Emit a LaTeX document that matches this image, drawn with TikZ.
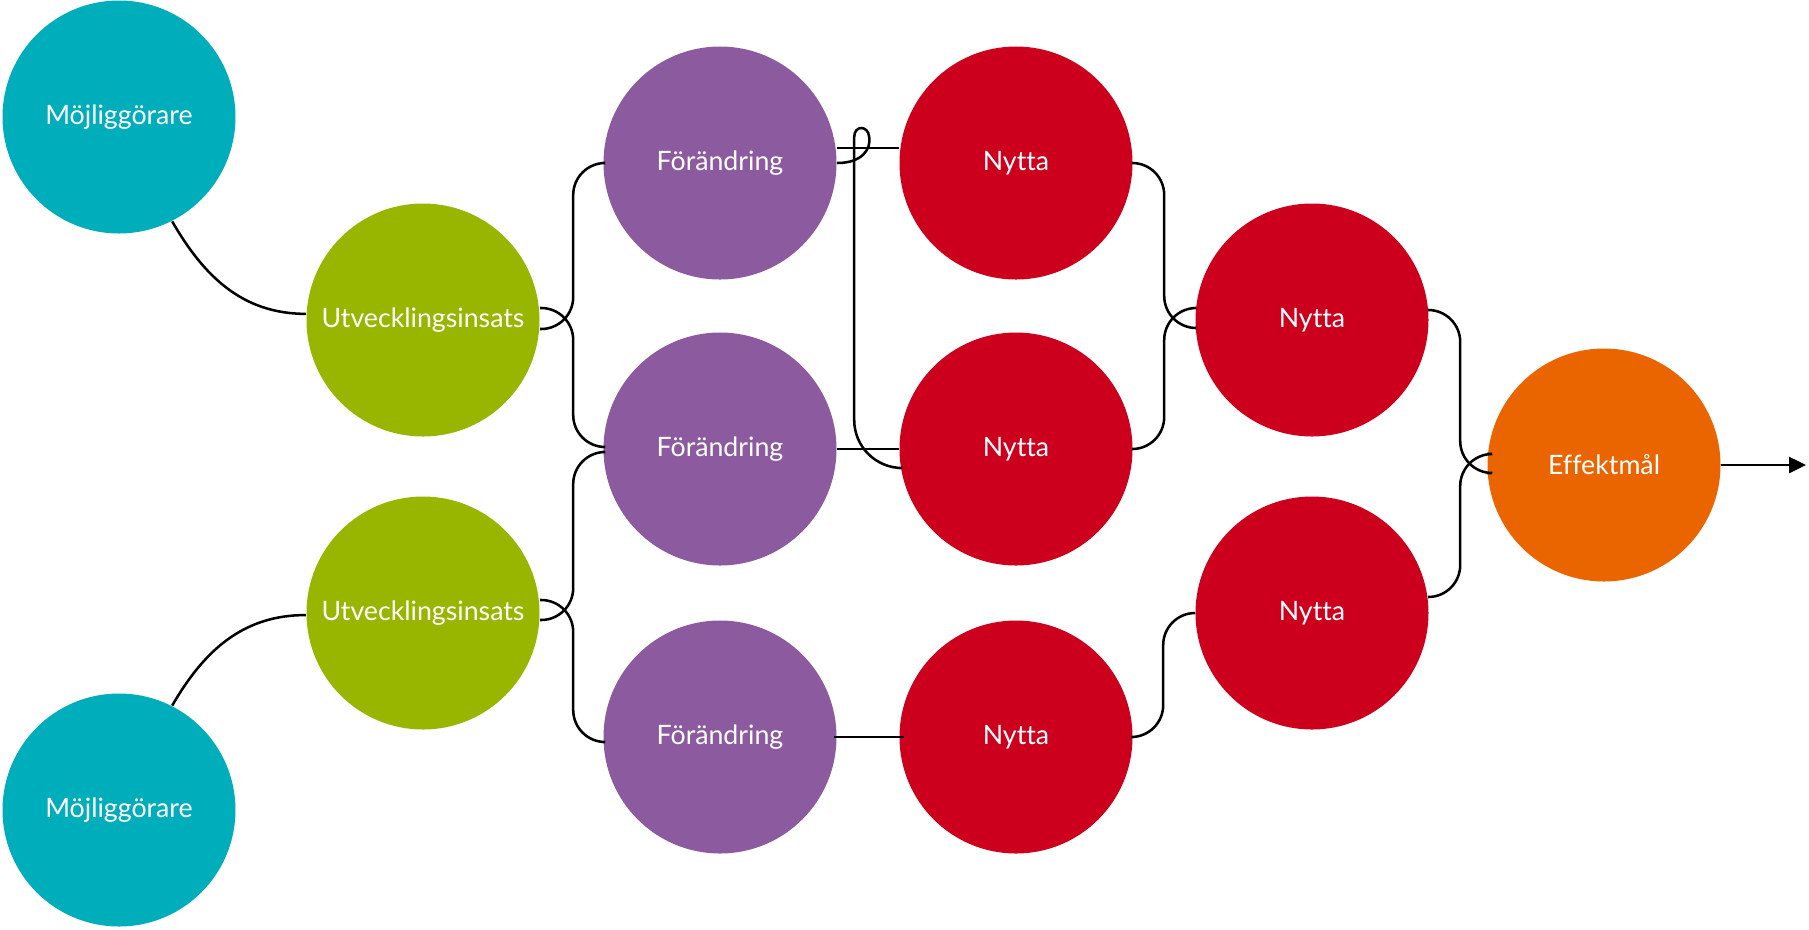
\documentclass[tikz,border=0pt]{standalone}
\usepackage{fontspec}
\setmainfont{Lato}[Ligatures=NoCommon]
\usepackage{tikz}
\usetikzlibrary{positioning}
\usetikzlibrary {arrows.meta}

\definecolor{enablerteal}{RGB}{0,173,187}
\definecolor{effortgreen}{RGB}{152,182,0}
\definecolor{changepurple}{RGB}{140,91,159}
\definecolor{benefitred}{RGB}{204,0,29}
\definecolor{goalorange}{RGB}{234,101,0}

\begin{document}
\begin{tikzpicture}[
		bubble/.style={circle,minimum size=2.33cm,inner sep=0,text=white,font=\fontsize{7.6}{9}\selectfont},
		enabler/.style={bubble,fill=enablerteal},
		effort/.style={bubble,fill=effortgreen},
		change/.style={bubble,fill=changepurple},
		benefit/.style={bubble,fill=benefitred},
		goal/.style={bubble,fill=goalorange},
		link/.style={line width=0.72pt},
		elbow/.style={link,rounded corners=0.32cm}
	]
		\useasboundingbox (0,0) rectangle (18.09,-9.29);
		
		\node[enabler] (m1) at (1.19,-1.17) {Möjliggörare};
		\node[enabler] (m2) at (1.19,-8.10) {Möjliggörare};
		
		\node[effort] (u1) at (4.23,-3.20) {Utvecklingsinsats};
		\node[effort] (u2) at (4.23,-6.13) {Utvecklingsinsats};
		
		\node[change] (f1) at (7.20,-1.63) {Förändring};
		\node[change] (f2) at (7.20,-4.49) {Förändring};
		\node[change] (f3) at (7.20,-7.37) {Förändring};
		
		\node[benefit] (n1) at (10.16,-1.63) {Nytta};
		\node[benefit] (n2) at (10.16,-4.49) {Nytta};
		\node[benefit] (n3) at (10.16,-7.37) {Nytta};
		\node[benefit] (n4) at (13.12,-3.20) {Nytta};
		\node[benefit] (n5) at (13.12,-6.13) {Nytta};
		
		\node[goal] (eff) at (16.04,-4.65) {Effektmål};
		\coordinate (out) at (18.06,-4.65);
		
		\draw[link] (m1.-63) to[out=-60,in=180] (u1.177);
		\draw[link] (m2.63) to[out=60,in=180] (u2.181);
		
		\draw[elbow] ([yshift=-0.09cm]u1.east) -- ++(0.33,0) |- (f1.west);
		\draw[elbow] ([yshift=0.12cm]u1.east) -- ++(0.33,0) |- ([yshift=0.02cm]f2.west);
		\draw[elbow] ([yshift=-0.07cm]u2.east) -- ++(0.33,0) |- ([yshift=-0.03cm]f2.west);
		\draw[elbow] ([yshift=0.13cm]u2.east) -- ++(0.33,0) |- ([yshift=-0.05cm]f3.west);
		
		\draw[link] ([yshift=0.15cm]f1.east) -- ([yshift=0.15cm]n1.west);
		\draw[link] (f1.east) .. controls +(0.25,0) and +(0.02,-0.12) .. ++(0.32,0.26)
			.. controls +(-0.01,0.12) and +(0,0.12) .. ++(-0.15,0)
			[rounded corners=0.48cm] |- ([yshift=-0.19cm]n2.west);
		\draw[link] (f2.east) -- (n2.west);
		\draw[link,shorten <=-0.03cm,shorten >=-0.05cm] (f3.east) -- (n3.west);
		
		\draw[elbow] (n1.east) -- ++(0.31,0) |- ([yshift=-0.08cm]n4.west);
		\draw[elbow] (n2.east) -- ++(0.31,0) |- ([yshift=0.12cm]n4.west);
		\draw[elbow] (n3.east) -- ++(0.30,0) |- (n5.west);
		
		\draw[elbow] ([yshift=0.10cm]n4.east) -- ++(0.31,0) |- ([yshift=-0.08cm]eff.west);
		\draw[elbow] ([yshift=0.16cm]n5.east) -- ++(0.31,0) |- ([yshift=0.11cm]eff.west);
		
		\draw[link,-{Triangle[length=0.17cm,width=0.16cm]}] (eff.east) -- (out);
	\end{tikzpicture}
\end{document}
